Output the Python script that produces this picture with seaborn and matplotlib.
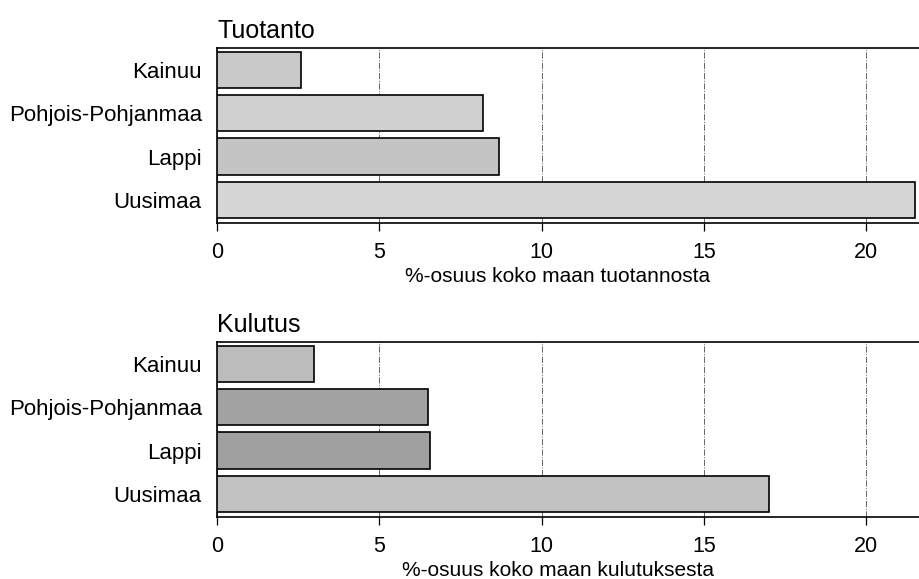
import pandas as pd
import matplotlib
matplotlib.use('Agg')
import matplotlib.pyplot as plt
import seaborn as sns

# Regions shown on the y axis (top to bottom)
regions = ['Kainuu', 'Pohjois-Pohjanmaa', 'Lappi', 'Uusimaa']

# Share of national production / consumption (%)
tuotanto = [2.6, 8.2, 8.7, 21.5]
kulutus = [3.0, 6.5, 6.55, 17.0]

x_ticks = [0, 5, 10, 15, 20]

# Grey tones approximating the stippled fills of the scan
tuotanto_colors = ['#c9c9c9', '#d0d0d0', '#c4c4c4', '#d6d6d6']
kulutus_colors = ['#bcbcbc', '#a3a3a3', '#a0a0a0', '#c2c2c2']

sns.set_theme(style='white')
plt.rcParams['font.family'] = ['Liberation Sans', 'DejaVu Sans']

fig = plt.figure(figsize=(9.2, 5.79), dpi=100)
ax1 = fig.add_axes([0.2359, 0.615, 0.7641, 0.302])
ax2 = fig.add_axes([0.2359, 0.1071, 0.7641, 0.302])

panels = [
    (ax1, tuotanto, tuotanto_colors, 'Tuotanto', '%-osuus koko maan tuotannosta'),
    (ax2, kulutus, kulutus_colors, 'Kulutus', '%-osuus koko maan kulutuksesta'),
]

for ax, values, colors, title, xlabel in panels:
    df = pd.DataFrame({'Alue': regions, 'Osuus': values})
    sns.barplot(data=df, x='Osuus', y='Alue', hue='Alue', palette=colors,
                orient='h', width=0.84, edgecolor='black', linewidth=1.2,
                legend=False, ax=ax, zorder=3)
    ax.set_xlim(0, 21.66)
    ax.set_ylim(3.53, -0.5)
    ax.set_xticks(x_ticks)
    ax.set_xticklabels([str(t) for t in x_ticks])
    ax.xaxis.grid(True, color='#666666', linestyle='-.', linewidth=0.7, zorder=0)
    ax.yaxis.grid(False)
    ax.set_axisbelow(True)
    for side in ['left', 'top', 'bottom']:
        ax.spines[side].set_visible(True)
        ax.spines[side].set_color('black')
        ax.spines[side].set_linewidth(1.2)
    ax.spines['right'].set_visible(False)
    ax.tick_params(axis='x', bottom=True, length=6, width=0.9, color='black',
                   pad=8, labelsize=15.5, labelcolor='black')
    ax.tick_params(axis='y', left=False, pad=5, labelsize=16, labelcolor='black')
    ax.set_ylabel('')
    ax.set_xlabel(xlabel, fontsize=15, color='black')
    ax.xaxis.set_label_coords(0.485, -0.25)
    ax.set_title(title, loc='left', fontsize=18, color='black', pad=7)

fig.savefig('out.png', dpi=100)
